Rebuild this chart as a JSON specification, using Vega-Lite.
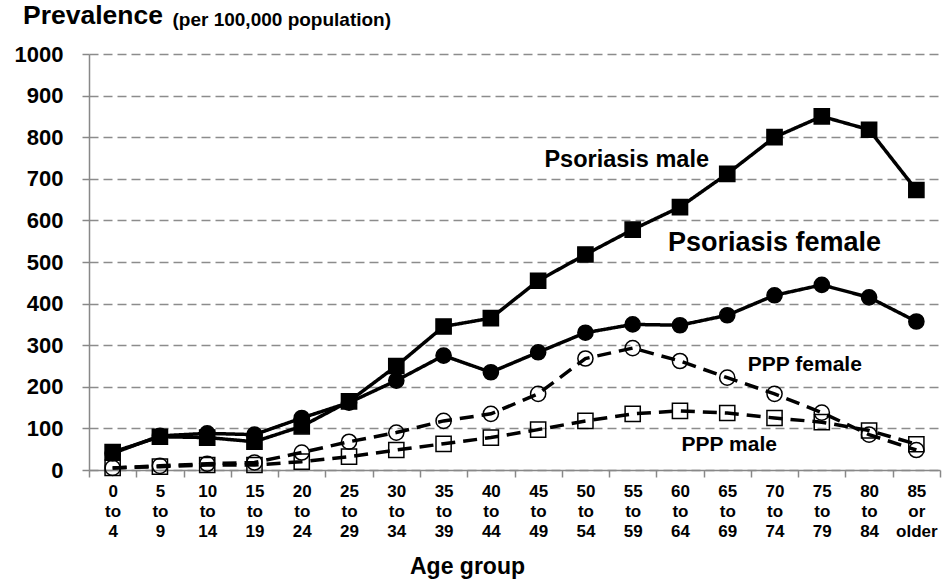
{
  "$schema": "https://vega.github.io/schema/vega-lite/v6.json",
  "width": 851,
  "height": 416,
  "autosize": {"type": "none"},
  "padding": {"left": 89, "top": 54, "right": 12, "bottom": 109},
  "background": "white",
  "config": {
    "font": "Liberation Sans",
    "view": {"stroke": null}
  },
  "title": {
    "text": "Prevalence",
    "anchor": "start",
    "frame": "group",
    "orient": "top",
    "fontSize": 26.5,
    "fontWeight": "bold",
    "color": "black",
    "font": "Liberation Sans",
    "baseline": "alphabetic",
    "dx": -66,
    "offset": 0,
    "dy": 40
  },
  "datasets": {
    "prev": [
      {"age": "0 to 4", "series": "Psoriasis male", "value": 43},
      {"age": "5 to 9", "series": "Psoriasis male", "value": 80},
      {"age": "10 to 14", "series": "Psoriasis male", "value": 78},
      {"age": "15 to 19", "series": "Psoriasis male", "value": 68},
      {"age": "20 to 24", "series": "Psoriasis male", "value": 105},
      {"age": "25 to 29", "series": "Psoriasis male", "value": 165},
      {"age": "30 to 34", "series": "Psoriasis male", "value": 250},
      {"age": "35 to 39", "series": "Psoriasis male", "value": 345},
      {"age": "40 to 44", "series": "Psoriasis male", "value": 365},
      {"age": "45 to 49", "series": "Psoriasis male", "value": 455},
      {"age": "50 to 54", "series": "Psoriasis male", "value": 518},
      {"age": "55 to 59", "series": "Psoriasis male", "value": 578},
      {"age": "60 to 64", "series": "Psoriasis male", "value": 632},
      {"age": "65 to 69", "series": "Psoriasis male", "value": 712},
      {"age": "70 to 74", "series": "Psoriasis male", "value": 800},
      {"age": "75 to 79", "series": "Psoriasis male", "value": 850},
      {"age": "80 to 84", "series": "Psoriasis male", "value": 818},
      {"age": "85 or older", "series": "Psoriasis male", "value": 673},
      {"age": "0 to 4", "series": "Psoriasis female", "value": 40},
      {"age": "5 to 9", "series": "Psoriasis female", "value": 82},
      {"age": "10 to 14", "series": "Psoriasis female", "value": 88},
      {"age": "15 to 19", "series": "Psoriasis female", "value": 85},
      {"age": "20 to 24", "series": "Psoriasis female", "value": 125},
      {"age": "25 to 29", "series": "Psoriasis female", "value": 162},
      {"age": "30 to 34", "series": "Psoriasis female", "value": 215},
      {"age": "35 to 39", "series": "Psoriasis female", "value": 275},
      {"age": "40 to 44", "series": "Psoriasis female", "value": 235},
      {"age": "45 to 49", "series": "Psoriasis female", "value": 283},
      {"age": "50 to 54", "series": "Psoriasis female", "value": 330},
      {"age": "55 to 59", "series": "Psoriasis female", "value": 350},
      {"age": "60 to 64", "series": "Psoriasis female", "value": 348},
      {"age": "65 to 69", "series": "Psoriasis female", "value": 372},
      {"age": "70 to 74", "series": "Psoriasis female", "value": 420},
      {"age": "75 to 79", "series": "Psoriasis female", "value": 445},
      {"age": "80 to 84", "series": "Psoriasis female", "value": 415},
      {"age": "85 or older", "series": "Psoriasis female", "value": 357},
      {"age": "0 to 4", "series": "PPP female", "value": 5},
      {"age": "5 to 9", "series": "PPP female", "value": 10},
      {"age": "10 to 14", "series": "PPP female", "value": 15},
      {"age": "15 to 19", "series": "PPP female", "value": 18},
      {"age": "20 to 24", "series": "PPP female", "value": 42},
      {"age": "25 to 29", "series": "PPP female", "value": 68},
      {"age": "30 to 34", "series": "PPP female", "value": 90},
      {"age": "35 to 39", "series": "PPP female", "value": 118},
      {"age": "40 to 44", "series": "PPP female", "value": 135},
      {"age": "45 to 49", "series": "PPP female", "value": 183},
      {"age": "50 to 54", "series": "PPP female", "value": 268},
      {"age": "55 to 59", "series": "PPP female", "value": 293},
      {"age": "60 to 64", "series": "PPP female", "value": 262},
      {"age": "65 to 69", "series": "PPP female", "value": 222},
      {"age": "70 to 74", "series": "PPP female", "value": 183},
      {"age": "75 to 79", "series": "PPP female", "value": 138},
      {"age": "80 to 84", "series": "PPP female", "value": 85},
      {"age": "85 or older", "series": "PPP female", "value": 48},
      {"age": "0 to 4", "series": "PPP male", "value": 5},
      {"age": "5 to 9", "series": "PPP male", "value": 8},
      {"age": "10 to 14", "series": "PPP male", "value": 12},
      {"age": "15 to 19", "series": "PPP male", "value": 12},
      {"age": "20 to 24", "series": "PPP male", "value": 20},
      {"age": "25 to 29", "series": "PPP male", "value": 32},
      {"age": "30 to 34", "series": "PPP male", "value": 48},
      {"age": "35 to 39", "series": "PPP male", "value": 63},
      {"age": "40 to 44", "series": "PPP male", "value": 78},
      {"age": "45 to 49", "series": "PPP male", "value": 97},
      {"age": "50 to 54", "series": "PPP male", "value": 118},
      {"age": "55 to 59", "series": "PPP male", "value": 135},
      {"age": "60 to 64", "series": "PPP male", "value": 142},
      {"age": "65 to 69", "series": "PPP male", "value": 137},
      {"age": "70 to 74", "series": "PPP male", "value": 125},
      {"age": "75 to 79", "series": "PPP male", "value": 115},
      {"age": "80 to 84", "series": "PPP male", "value": 95},
      {"age": "85 or older", "series": "PPP male", "value": 62}
    ]
  },
  "encoding": {
    "x": {
      "field": "age",
      "type": "nominal",
      "sort": null,
      "scale": {
        "type": "band",
        "paddingInner": 0,
        "paddingOuter": 0,
        "domain": ["0 to 4", "5 to 9", "10 to 14", "15 to 19", "20 to 24", "25 to 29", "30 to 34", "35 to 39", "40 to 44", "45 to 49", "50 to 54", "55 to 59", "60 to 64", "65 to 69", "70 to 74", "75 to 79", "80 to 84", "85 or older"]
      },
      "axis": {
        "title": "Age group",
        "titleFontSize": 23,
        "titleFontWeight": "bold",
        "titleColor": "black",
        "titleX": 378,
        "titleY": 103,
        "titleAlign": "center",
        "titleBaseline": "alphabetic",
        "labelExpr": "split(datum.label, ' ')",
        "labelAngle": 0,
        "labelFontSize": 17,
        "labelFontWeight": "bold",
        "labelColor": "black",
        "labelLineHeight": 20,
        "labelPadding": 6,
        "labelBaseline": "top",
        "tickBand": "extent",
        "tickSize": 7,
        "tickColor": "#888888",
        "tickWidth": 1.5,
        "domainColor": "#888888",
        "domainWidth": 1.5,
        "grid": false
      }
    },
    "y": {
      "field": "value",
      "type": "quantitative",
      "scale": {"domain": [0, 1000], "nice": false, "zero": true},
      "axis": {
        "values": [0, 100, 200, 300, 400, 500, 600, 700, 800, 900, 1000],
        "format": "d",
        "title": "(per 100,000 population)",
        "titleAngle": 0,
        "titleX": 83,
        "titleY": -29,
        "titleAlign": "left",
        "titleBaseline": "alphabetic",
        "titleFontSize": 19,
        "titleFontWeight": "bold",
        "titleColor": "black",
        "labelFontSize": 22,
        "labelFontWeight": "bold",
        "labelColor": "black",
        "labelPadding": 19,
        "tickSize": 7,
        "tickColor": "#888888",
        "tickWidth": 1.5,
        "domainColor": "#888888",
        "domainWidth": 1.5,
        "grid": true,
        "gridColor": "#8c8c8c",
        "gridDash": [9, 5],
        "gridWidth": 1.3
      }
    }
  },
  "layer": [
    {
      "data": {"name": "prev"},
      "mark": {"type": "line", "color": "black", "strokeWidth": 3.5},
      "encoding": {
        "detail": {"field": "series"},
        "strokeDash": {
          "field": "series",
          "scale": {
            "domain": ["Psoriasis male", "Psoriasis female", "PPP female", "PPP male"],
            "range": [[1, 0], [1, 0], [14, 8], [14, 8]]
          },
          "legend": null
        }
      }
    },
    {
      "data": {"name": "prev"},
      "mark": {"type": "point", "filled": true, "stroke": "black", "strokeWidth": 1.5, "size": 230, "opacity": 1},
      "encoding": {
        "shape": {
          "field": "series",
          "scale": {
            "domain": ["Psoriasis male", "Psoriasis female", "PPP female", "PPP male"],
            "range": ["square", "circle", "circle", "square"]
          },
          "legend": null
        },
        "fill": {
          "field": "series",
          "scale": {
            "domain": ["Psoriasis male", "Psoriasis female", "PPP female", "PPP male"],
            "range": ["black", "black", "transparent", "transparent"]
          },
          "legend": null
        }
      }
    },
    {
      "data": {"values": [{"age": "55 to 59", "value": 745, "label": "Psoriasis male"}]},
      "mark": {"type": "text", "fontSize": 23.5, "fontWeight": "bold", "color": "black", "dx": -6, "baseline": "middle"},
      "encoding": {"text": {"field": "label"}}
    },
    {
      "data": {"values": [{"age": "70 to 74", "value": 545, "label": "Psoriasis female"}]},
      "mark": {"type": "text", "fontSize": 27, "fontWeight": "bold", "color": "black", "dx": 0, "baseline": "middle"},
      "encoding": {"text": {"field": "label"}}
    },
    {
      "data": {"values": [{"age": "75 to 79", "value": 252, "label": "PPP female"}]},
      "mark": {"type": "text", "fontSize": 21, "fontWeight": "bold", "color": "black", "dx": -17, "baseline": "middle"},
      "encoding": {"text": {"field": "label"}}
    },
    {
      "data": {"values": [{"age": "65 to 69", "value": 60, "label": "PPP male"}]},
      "mark": {"type": "text", "fontSize": 21, "fontWeight": "bold", "color": "black", "dx": 2, "baseline": "middle"},
      "encoding": {"text": {"field": "label"}}
    }
  ]
}
